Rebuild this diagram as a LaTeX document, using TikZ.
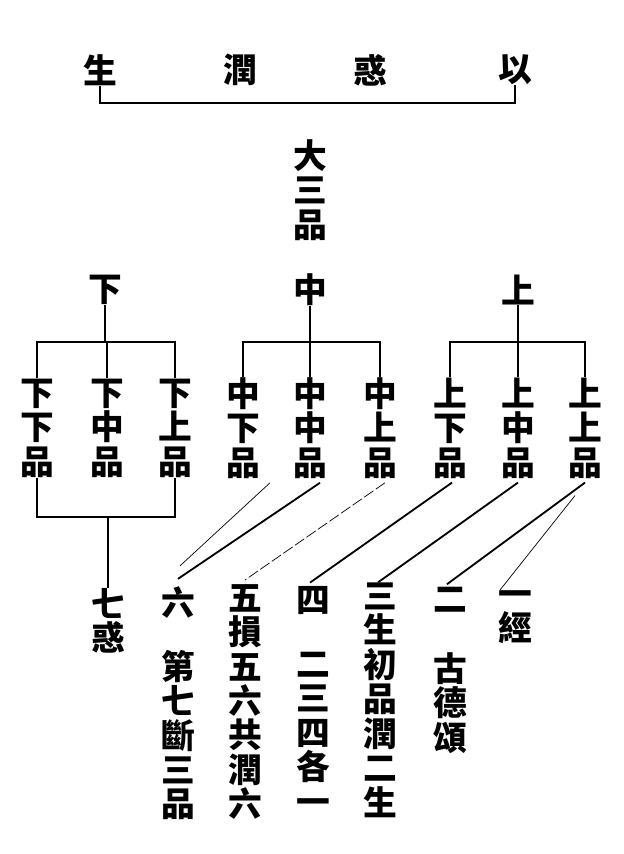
\documentclass[tikz,border=0pt]{standalone}
\usepackage{fontspec}
\usepackage{tikz}
\usetikzlibrary{calc}
\newfontfamily\cjk{Noto Sans CJK TC}

\tikzset{
    zi/.style = {font = {\cjk\bfseries\fontsize{24}{24.5}\selectfont}, inner sep = 0pt, align = center},
    bracket/.style = {line width = 0.9pt},
    cu/.style = {line width = 1.3pt},
    xi/.style = {line width = 0.5pt}
}

\begin{document}
\begin{tikzpicture}[x = 0.025cm, y = -0.025cm]
        \useasboundingbox (0, 0) rectangle (624, 854);
        % top line
        \node[zi] (sheng) at (100, 70) {生};
        \node[zi] (run) at (240, 70) {潤};
        \node[zi] (huo) at (370, 70) {惑};
        \node[zi] (yi) at (515, 70) {以};
        \coordinate (topbar) at (0, 103);
        \draw[bracket] (sheng.south) -- (sheng.south |- topbar) -- (yi.south |- topbar) -- (yi.south);
        \node[zi] (dasanpin) at (310, 190) {大\\三\\品};
        % three grades
        \node[zi] (xia) at (105, 290) {下};
        \node[zi] (zhong) at (310, 290) {中};
        \node[zi] (shang) at (518, 290) {上};
        \coordinate (midbar) at (0, 342);
        \coordinate (lowbar) at (0, 517);
        \node[zi] (xx) at (37, 428) {下\\下\\品};
        \node[zi] (xz) at (107, 428) {下\\中\\品};
        \node[zi] (xs) at (175, 428) {下\\上\\品};
        \node[zi] (zx) at (243, 428) {中\\下\\品};
        \node[zi] (zz) at (310, 428) {中\\中\\品};
        \node[zi] (zs) at (380, 428) {中\\上\\品};
        \node[zi] (sx) at (450, 428) {上\\下\\品};
        \node[zi] (sz) at (518, 428) {上\\中\\品};
        \node[zi] (ss) at (585, 428) {上\\上\\品};
        \draw[bracket] (xia.south) -- (xia.south |- midbar);
        \draw[bracket] (xx.north) -- (xx.north |- midbar) -- (xs.north |- midbar) -- (xs.north);
        \draw[bracket] (xz.north) -- (xz.north |- midbar);
        \draw[bracket] (zhong.south) -- (zhong.south |- midbar);
        \draw[bracket] (zx.north) -- (zx.north |- midbar) -- (zs.north |- midbar) -- (zs.north);
        \draw[bracket] (zz.north) -- (zz.north |- midbar);
        \draw[bracket] (shang.south) -- (shang.south |- midbar);
        \draw[bracket] (sx.north) -- (sx.north |- midbar) -- (ss.north |- midbar) -- (ss.north);
        \draw[bracket] (sz.north) -- (sz.north |- midbar);
        % bottom
        \node[zi] (qihuo) at (108, 621) {七\\惑};
        \node[zi] (liu) at (178, 603) {六};
        \node[zi] (diqi) at (178, 735) {第\\七\\斷\\三\\品};
        \node[zi] (wu) at (245, 702) {五\\損\\五\\六\\共\\潤\\六};
        \node[zi] (si) at (313, 600) {四};
        \node[zi] (ersan) at (313, 733) {二\\三\\四\\各\\一};
        \node[zi] (san) at (380, 700) {三\\生\\初\\品\\潤\\二\\生};
        \node[zi] (er) at (450, 600) {二};
        \node[zi] (gude) at (450, 703) {古\\德\\頌};
        \node[zi] (yijing) at (515, 617) {一\\經};
        \draw[bracket] (xx.south) -- (xx.south |- lowbar) -- (xs.south |- lowbar) -- (xs.south);
        \draw[bracket] (qihuo.north |- lowbar) -- (qihuo.north);
        \draw[xi] ($(zx.south) + (27, 4)$) -- ($(liu.north) + (2, -21)$);
        \draw[cu] ($(zz.south) + (10, 4)$) -- ($(liu.north) + (0, -8)$);
        \draw[xi, dash pattern = on 8pt off 2pt] ($(zs.south) + (5, 4)$) -- ($(wu.north) + (0, -4)$);
        \draw[cu] ($(sx.south) + (2, 4)$) -- ($(si.north) + (-3, -3)$);
        \draw[cu] ($(sz.south) + (0, 4)$) -- ($(san.north) + (-2, 0)$);
        \draw[cu] ($(ss.south) + (0, 4)$) -- ($(er.north) + (-3, -3)$);
        \draw[xi] ($(ss.south) + (-10, 17)$) -- ($(yijing.north) + (-15, 0)$);
    \end{tikzpicture}
\end{document}
